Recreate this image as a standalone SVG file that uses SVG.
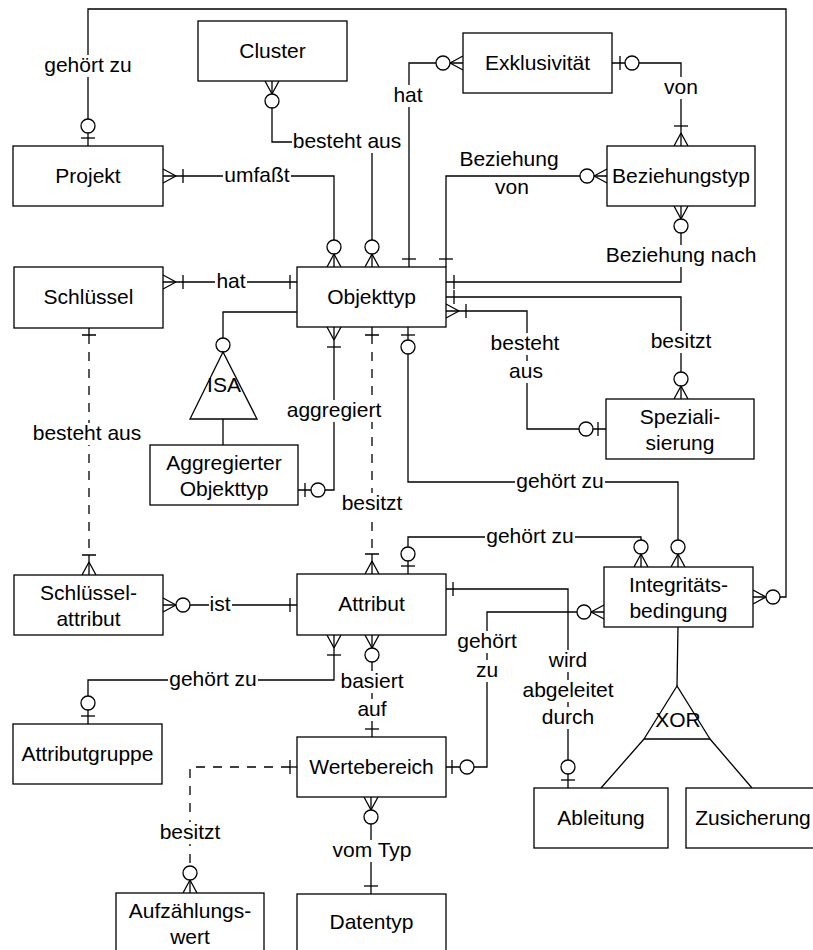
<svg xmlns="http://www.w3.org/2000/svg" xmlns:xlink="http://www.w3.org/1999/xlink" width="813" height="950" viewBox="0 0 813 950">
  <style>
    .box{fill:#fff;stroke:#000;stroke-width:1.3}
    .t{font-family:"Liberation Sans",Arial,sans-serif;font-size:21px;fill:#000;text-anchor:middle}
    .ln{fill:none;stroke:#000;stroke-width:1.3}
    .dash{stroke-dasharray:9,8}
    .o{fill:#fff;stroke:#000;stroke-width:1.3}
    .bg{fill:#fff}
  </style>
  <defs>
    <!-- crow's foot: box edge at origin, connector arrives from -x -->
    <path id="cf" d="M-13,0 L0,-7 M-13,0 L0,7" fill="none" stroke="#000" stroke-width="1.3"/>
  </defs>
  <rect width="813" height="950" fill="#fff"/>

  <g id="connectors">
    <!-- Projekt - Integritaetsbedingung: gehoert zu -->
    <path class="ln" d="M88,146 V9 H786 V597 H753"/>
    <path class="ln" d="M81,138 H95"/>
    <circle class="o" cx="88" cy="126" r="7"/>
    <use xlink:href="#cf" transform="translate(753,597) rotate(180)"/>
    <circle class="o" cx="773" cy="597" r="7"/>

    <!-- Projekt - Objekttyp: umfasst -->
    <path class="ln" d="M163,176 H334 V267"/>
    <use xlink:href="#cf" transform="translate(163,176) rotate(180)"/>
    <path class="ln" d="M183,169 V183"/>
    <use xlink:href="#cf" transform="translate(334,267) rotate(90)"/>
    <circle class="o" cx="334" cy="247" r="7"/>

    <!-- Cluster - Objekttyp: besteht aus -->
    <path class="ln" d="M272,81 V142 H372 V267"/>
    <use xlink:href="#cf" transform="translate(272,81) rotate(-90)"/>
    <circle class="o" cx="272" cy="101" r="7"/>
    <use xlink:href="#cf" transform="translate(372,267) rotate(90)"/>
    <circle class="o" cx="372" cy="247" r="7"/>

    <!-- Exklusivitaet - Objekttyp: hat -->
    <path class="ln" d="M463,63 H409 V267"/>
    <use xlink:href="#cf" transform="translate(463,63)"/>
    <circle class="o" cx="443" cy="63" r="7"/>
    <path class="ln" d="M402,259 H416"/>

    <!-- Beziehungstyp - Objekttyp: Beziehung von -->
    <path class="ln" d="M607,176 H446 V267"/>
    <use xlink:href="#cf" transform="translate(607,176)"/>
    <circle class="o" cx="587" cy="176" r="7"/>
    <path class="ln" d="M439,259 H453"/>

    <!-- Exklusivitaet - Beziehungstyp: von -->
    <path class="ln" d="M612,63 H681 V146"/>
    <path class="ln" d="M620,56 V70"/>
    <circle class="o" cx="632" cy="63" r="7"/>
    <use xlink:href="#cf" transform="translate(681,146) rotate(90)"/>
    <path class="ln" d="M674,126 H688"/>

    <!-- Beziehungstyp - Objekttyp: Beziehung nach -->
    <path class="ln" d="M681,206 V282 H446"/>
    <use xlink:href="#cf" transform="translate(681,206) rotate(-90)"/>
    <circle class="o" cx="681" cy="226" r="7"/>
    <path class="ln" d="M454,275 V289"/>

    <!-- Objekttyp - Spezialisierung: besitzt -->
    <path class="ln" d="M446,297 H681 V399"/>
    <path class="ln" d="M454,290 V304"/>
    <use xlink:href="#cf" transform="translate(681,399) rotate(90)"/>
    <circle class="o" cx="681" cy="379" r="7"/>

    <!-- Objekttyp - Spezialisierung: besteht aus -->
    <path class="ln" d="M446,311 H527 V429 H606"/>
    <use xlink:href="#cf" transform="translate(446,311) rotate(180)"/>
    <path class="ln" d="M466,304 V318"/>
    <path class="ln" d="M598,422 V436"/>
    <circle class="o" cx="586" cy="429" r="7"/>

    <!-- Schluessel - Objekttyp: hat -->
    <path class="ln" d="M163,282 H297"/>
    <use xlink:href="#cf" transform="translate(163,282) rotate(180)"/>
    <path class="ln" d="M183,275 V289"/>
    <path class="ln" d="M290,275 V289"/>

    <!-- Objekttyp - ISA -->
    <path class="ln" d="M297,312 H223 V352"/>

    <!-- Objekttyp - Aggregierter Objekttyp: aggregiert -->
    <path class="ln" d="M334,327 V490 H298"/>
    <use xlink:href="#cf" transform="translate(334,327) rotate(-90)"/>
    <path class="ln" d="M327,347 H341"/>
    <path class="ln" d="M305,483 V497"/>
    <circle class="o" cx="318" cy="490" r="7"/>

    <!-- Objekttyp - Attribut: besitzt (dashed) -->
    <path class="ln" d="M372,327 V335 M372,554 V574"/>
    <path class="ln dash" d="M372,335 V554"/>
    <path class="ln" d="M365,335 H379 M365,554 H379"/>
    <use xlink:href="#cf" transform="translate(372,574) rotate(90)"/>

    <!-- Objekttyp - Integritaetsbedingung: gehoert zu -->
    <path class="ln" d="M408,327 V482 H678 V567"/>
    <path class="ln" d="M401,335 H415"/>
    <circle class="o" cx="408" cy="347" r="7"/>
    <use xlink:href="#cf" transform="translate(678,567) rotate(90)"/>
    <circle class="o" cx="678" cy="547" r="7"/>

    <!-- Attribut - Integritaetsbedingung: gehoert zu -->
    <path class="ln" d="M408,574 V537 H641 V567"/>
    <path class="ln" d="M401,566 H415"/>
    <circle class="o" cx="408" cy="554" r="7"/>
    <use xlink:href="#cf" transform="translate(641,567) rotate(90)"/>
    <circle class="o" cx="641" cy="547" r="7"/>

    <!-- Schluessel - Schluesselattribut: besteht aus (dashed) -->
    <path class="ln" d="M89,328 V335 M89,555 V575"/>
    <path class="ln dash" d="M89,335 V555"/>
    <path class="ln" d="M82,335 H96 M82,555 H96"/>
    <use xlink:href="#cf" transform="translate(89,575) rotate(90)"/>

    <!-- Schluesselattribut - Attribut: ist -->
    <path class="ln" d="M163,605 H297"/>
    <use xlink:href="#cf" transform="translate(163,605) rotate(180)"/>
    <circle class="o" cx="183" cy="605" r="7"/>
    <path class="ln" d="M290,598 V612"/>

    <!-- Attribut - Attributgruppe: gehoert zu -->
    <path class="ln" d="M334,635 V680 H88 V724"/>
    <use xlink:href="#cf" transform="translate(334,635) rotate(-90)"/>
    <path class="ln" d="M327,655 H341"/>
    <path class="ln" d="M81,716 H95"/>
    <circle class="o" cx="88" cy="703" r="7"/>

    <!-- Attribut - Wertebereich: basiert auf -->
    <path class="ln" d="M372,635 V737"/>
    <use xlink:href="#cf" transform="translate(372,635) rotate(-90)"/>
    <circle class="o" cx="372" cy="655" r="7"/>
    <path class="ln" d="M365,729 H379"/>

    <!-- Attribut - Ableitung: wird abgeleitet durch -->
    <path class="ln" d="M446,589 H568 V788"/>
    <path class="ln" d="M453,582 V596"/>
    <circle class="o" cx="568" cy="767" r="7"/>
    <path class="ln" d="M561,780 H575"/>

    <!-- Integritaetsbedingung - Wertebereich: gehoert zu -->
    <path class="ln" d="M604,612 H487 V767 H446"/>
    <use xlink:href="#cf" transform="translate(604,612)"/>
    <circle class="o" cx="584" cy="612" r="7"/>
    <path class="ln" d="M452,760 V774"/>
    <circle class="o" cx="467" cy="767" r="7"/>

    <!-- Wertebereich - Aufzaehlungswert: besitzt (dashed) -->
    <path class="ln" d="M297,767 H290"/>
    <path class="ln dash" d="M290,767 H190 V866"/>
    <path class="ln" d="M190,880 V893"/>
    <path class="ln" d="M290,760 V774"/>
    <use xlink:href="#cf" transform="translate(190,893) rotate(90)"/>
    <circle class="o" cx="190" cy="873" r="7"/>

    <!-- Wertebereich - Datentyp: vom Typ -->
    <path class="ln" d="M371,797 V894"/>
    <use xlink:href="#cf" transform="translate(371,797) rotate(-90)"/>
    <circle class="o" cx="371" cy="817" r="7"/>
    <path class="ln" d="M364,886 H378"/>

    <!-- Integritaetsbedingung - XOR -->
    <path class="ln" d="M678,627 L677,686"/>
    <path class="ln" d="M644,739 L601,788 M710,739 L752,788"/>
  </g>

  <g id="labels">
    <rect class="bg" x="43" y="55" width="90" height="22"/><text class="t" x="88" y="72">gehört zu</text>
    <rect class="bg" x="223" y="165" width="68" height="22"/><text class="t" x="257" y="182">umfaßt</text>
    <rect class="bg" x="292" y="131" width="111" height="22"/><text class="t" x="347" y="148">besteht aus</text>
    <rect class="bg" x="393" y="85" width="32" height="22"/><text class="t" x="408" y="102">hat</text>
    <text class="t" x="509" y="166">Beziehung</text>
    <rect class="bg" x="494" y="180" width="36" height="20"/><text class="t" x="512" y="194">von</text>
    <rect class="bg" x="663" y="77" width="36" height="22"/><text class="t" x="681" y="94">von</text>
    <rect class="bg" x="605" y="245" width="153" height="22"/><text class="t" x="681" y="262">Beziehung nach</text>
    <rect class="bg" x="650" y="331" width="63" height="22"/><text class="t" x="681" y="348">besitzt</text>
    <rect class="bg" x="490" y="333" width="71" height="22"/><text class="t" x="525" y="350">besteht</text>
    <rect class="bg" x="508" y="361" width="36" height="22"/><text class="t" x="526" y="378">aus</text>
    <rect class="bg" x="215" y="271" width="32" height="22"/><text class="t" x="231" y="288">hat</text>
    <rect class="bg" x="286" y="400" width="97" height="22"/><text class="t" x="334" y="417">aggregiert</text>
    <rect class="bg" x="341" y="493" width="63" height="22"/><text class="t" x="372" y="510">besitzt</text>
    <rect class="bg" x="515" y="471" width="90" height="22"/><text class="t" x="560" y="488">gehört zu</text>
    <rect class="bg" x="485" y="526" width="90" height="22"/><text class="t" x="530" y="543">gehört zu</text>
    <rect class="bg" x="32" y="423" width="111" height="22"/><text class="t" x="87" y="440">besteht aus</text>
    <rect class="bg" x="209" y="594" width="23" height="22"/><text class="t" x="220" y="611">ist</text>
    <rect class="bg" x="168" y="669" width="90" height="22"/><text class="t" x="213" y="686">gehört zu</text>
    <rect class="bg" x="340" y="671" width="65" height="22"/><text class="t" x="372" y="688">basiert</text>
    <rect class="bg" x="356" y="699" width="32" height="22"/><text class="t" x="372" y="716">auf</text>
    <rect class="bg" x="548" y="650" width="41" height="22"/><text class="t" x="568" y="667">wird</text>
    <rect class="bg" x="522" y="680" width="93" height="22"/><text class="t" x="568" y="697">abgeleitet</text>
    <rect class="bg" x="541" y="707" width="55" height="22"/><text class="t" x="568" y="724">durch</text>
    <rect class="bg" x="456" y="631" width="62" height="22"/><text class="t" x="487" y="648">gehört</text>
    <rect class="bg" x="475" y="660" width="24" height="22"/><text class="t" x="487" y="677">zu</text>
    <rect class="bg" x="159" y="822" width="63" height="22"/><text class="t" x="190" y="839">besitzt</text>
    <rect class="bg" x="331" y="840" width="83" height="22"/><text class="t" x="372" y="857">vom Typ</text>
  </g>

  <g id="nodes">
    <g id="n-projekt"><rect class="box" x="13" y="146" width="150" height="60"/><text class="t" x="88" y="183">Projekt</text></g>
    <g id="n-cluster"><rect class="box" x="198" y="21" width="149" height="60"/><text class="t" x="272.5" y="58">Cluster</text></g>
    <g id="n-exklusivitaet"><rect class="box" x="463" y="33" width="149" height="60"/><text class="t" x="537.5" y="70">Exklusivität</text></g>
    <g id="n-beziehungstyp"><rect class="box" x="607" y="146" width="148" height="60"/><text class="t" x="681" y="183">Beziehungstyp</text></g>
    <g id="n-objekttyp"><rect class="box" x="297" y="267" width="149" height="60"/><text class="t" x="371.5" y="304">Objekttyp</text></g>
    <g id="n-schluessel"><rect class="box" x="14" y="267" width="149" height="61"/><text class="t" x="88.5" y="304">Schlüssel</text></g>
    <g id="n-isa">
      <circle class="o" cx="223" cy="345" r="7"/>
      <polygon class="ln" points="223,352 190,419 257,419"/>
      <path class="ln" d="M223,419 V445"/>
      <text class="t" x="224" y="392">ISA</text>
    </g>
    <g id="n-aggregierter-objekttyp"><rect class="box" x="150" y="445" width="148" height="60"/><text class="t" x="224" y="470">Aggregierter</text><text class="t" x="224" y="496">Objekttyp</text></g>
    <g id="n-spezialisierung"><rect class="box" x="606" y="399" width="148" height="60"/><text class="t" x="680" y="424">Speziali-</text><text class="t" x="680" y="450">sierung</text></g>
    <g id="n-schluesselattribut"><rect class="box" x="14" y="575" width="149" height="60"/><text class="t" x="88.5" y="600">Schlüssel-</text><text class="t" x="88.5" y="626">attribut</text></g>
    <g id="n-attribut"><rect class="box" x="297" y="574" width="149" height="61"/><text class="t" x="371.5" y="611">Attribut</text></g>
    <g id="n-integritaetsbedingung"><rect class="box" x="604" y="567" width="149" height="60"/><text class="t" x="678.5" y="592">Integritäts-</text><text class="t" x="678.5" y="618">bedingung</text></g>
    <g id="n-attributgruppe"><rect class="box" x="13" y="724" width="149" height="60"/><text class="t" x="87.5" y="761">Attributgruppe</text></g>
    <g id="n-wertebereich"><rect class="box" x="297" y="737" width="149" height="60"/><text class="t" x="371.5" y="774">Wertebereich</text></g>
    <g id="n-xor">
      <polygon class="ln" points="677,686 644,739 710,739"/>
      <text class="t" x="678" y="727">XOR</text>
    </g>
    <g id="n-ableitung"><rect class="box" x="534" y="788" width="134" height="60"/><text class="t" x="601" y="825">Ableitung</text></g>
    <g id="n-zusicherung"><rect class="box" x="686" y="788" width="134" height="60"/><text class="t" x="753" y="825">Zusicherung</text></g>
    <g id="n-aufzaehlungswert"><rect class="box" x="116" y="893" width="148" height="60"/><text class="t" x="190" y="918">Aufzählungs-</text><text class="t" x="190" y="944">wert</text></g>
    <g id="n-datentyp"><rect class="box" x="297" y="894" width="149" height="60"/><text class="t" x="371.5" y="929">Datentyp</text></g>
  </g>
</svg>
